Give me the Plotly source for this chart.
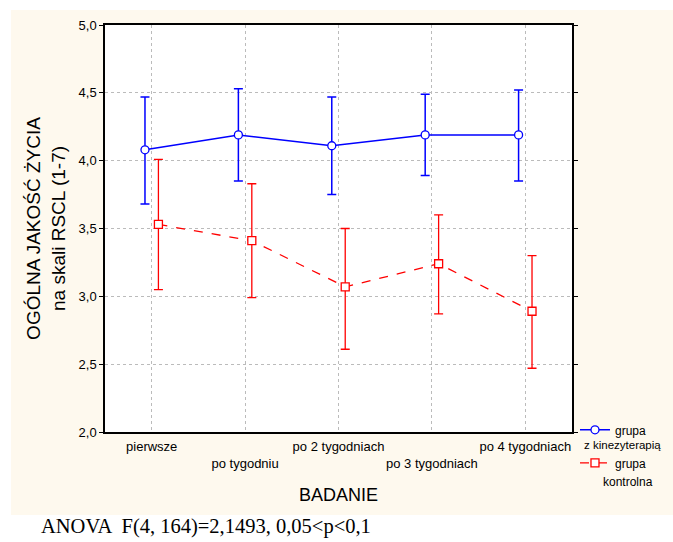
import plotly.graph_objects as go

categories = ["pierwsze", "po tygodniu", "po 2 tygodniach", "po 3 tygodniach", "po 4 tygodniach"]
tick_labels = ["pierwsze", "<br>po tygodniu", "po 2 tygodniach", "<br>po 3 tygodniach", "po 4 tygodniach"]

kin_mean = [4.08, 4.19, 4.11, 4.19, 4.19]
kin_upper = [4.47, 4.53, 4.47, 4.49, 4.52]
kin_lower = [3.68, 3.85, 3.75, 3.89, 3.85]

kon_mean = [3.53, 3.41, 3.07, 3.24, 2.89]
kon_upper = [4.01, 3.83, 3.50, 3.60, 3.30]
kon_lower = [3.05, 2.99, 2.61, 2.87, 2.47]

offset = 0.072
x_pos = list(range(len(categories)))
x_kin = [i - offset for i in x_pos]
x_kon = [i + offset for i in x_pos]

BLUE = "#0000FF"
RED = "#FF0000"

fig = go.Figure()
fig.add_trace(go.Scatter(
    x=x_kin, y=kin_mean, mode="lines+markers",
    name="grupa", legendgroup="kin",
    line=dict(color=BLUE, width=1.5),
    marker=dict(symbol="circle", size=8, color="white", line=dict(color=BLUE, width=1.3)),
    error_y=dict(type="data", symmetric=False,
                 array=[u - m for u, m in zip(kin_upper, kin_mean)],
                 arrayminus=[m - l for m, l in zip(kin_mean, kin_lower)],
                 color=BLUE, thickness=1.5, width=4.5),
))
fig.add_trace(go.Scatter(
    x=x_kon, y=kon_mean, mode="lines+markers",
    name="grupa", legendgroup="kon",
    line=dict(color=RED, width=1.3, dash="dash"),
    marker=dict(symbol="square", size=8, color="white", line=dict(color=RED, width=1.3)),
    error_y=dict(type="data", symmetric=False,
                 array=[u - m for u, m in zip(kon_upper, kon_mean)],
                 arrayminus=[m - l for m, l in zip(kon_mean, kon_lower)],
                 color=RED, thickness=1.3, width=4.5),
))

fig.update_layout(
    width=673, height=542,
    margin=dict(l=105, r=101, t=25, b=110, autoexpand=False),
    paper_bgcolor="white",
    plot_bgcolor="white",
    separators=",.",
    font=dict(family="Liberation Sans, Arial, sans-serif", color="black", size=12),
    showlegend=True,
    legend=dict(x=1.0064, xanchor="left", y=0.041, yanchor="top",
                bgcolor="rgba(0,0,0,0)", font=dict(size=12), itemwidth=30,
                tracegroupgap=14),
    shapes=[dict(type="rect", xref="paper", yref="paper",
                 x0=-0.2013, x1=1.2163, y0=-0.2039, y1=1.0369,
                 fillcolor="#FEF9EE", line=dict(width=0), layer="below"),
            dict(type="rect", xref="paper", yref="paper",
                 x0=0, x1=1, y0=0, y1=1,
                 fillcolor="white", line=dict(width=0), layer="below")],
    annotations=[
        dict(text="ANOVA  F(4, 164)=2,1493, 0,05&lt;p&lt;0,1",
             xref="paper", yref="paper", x=-0.141, y=-0.2334,
             xanchor="left", yanchor="middle", showarrow=False,
             font=dict(family="Liberation Serif, Times New Roman, serif", size=20.5)),
        dict(text="z kinezyterapią", xref="paper", yref="paper",
             x=1.0215, y=-0.0319, xanchor="left", yanchor="middle", showarrow=False,
             font=dict(size=11.5)),
        dict(text="kontrolna", xref="paper", yref="paper",
             x=1.0621, y=-0.1228, xanchor="left", yanchor="middle", showarrow=False,
             font=dict(size=12)),
    ],
)

fig.update_xaxes(
    range=[-0.5, 4.5], tickvals=x_pos, ticktext=tick_labels, ticks="", ticklen=0,
    tickangle=0, ticklabelstandoff=2,
    showgrid=True, gridcolor="#BBBBBB", griddash="dot", gridwidth=1,
    showline=True, linecolor="black", linewidth=1.5, mirror=True,
    zeroline=False, tickfont=dict(size=13),
    title=dict(text="BADANIE", font=dict(size=18), standoff=18),
)
fig.update_yaxes(
    range=[2.0, 5.0], tickvals=[2.0, 2.5, 3.0, 3.5, 4.0, 4.5, 5.0], tickformat=".1f",
    ticks="outside", ticklen=4, tickcolor="black",
    showgrid=True, gridcolor="#BBBBBB", griddash="dot", gridwidth=1,
    showline=True, linecolor="black", linewidth=1.5, mirror="ticks",
    zeroline=False, tickfont=dict(size=13),
    title=dict(text="OGÓLNA JAKOŚĆ ŻYCIA<br>na skali RSCL (1-7)", font=dict(size=19), standoff=8),
)

fig.write_html("out.html")
